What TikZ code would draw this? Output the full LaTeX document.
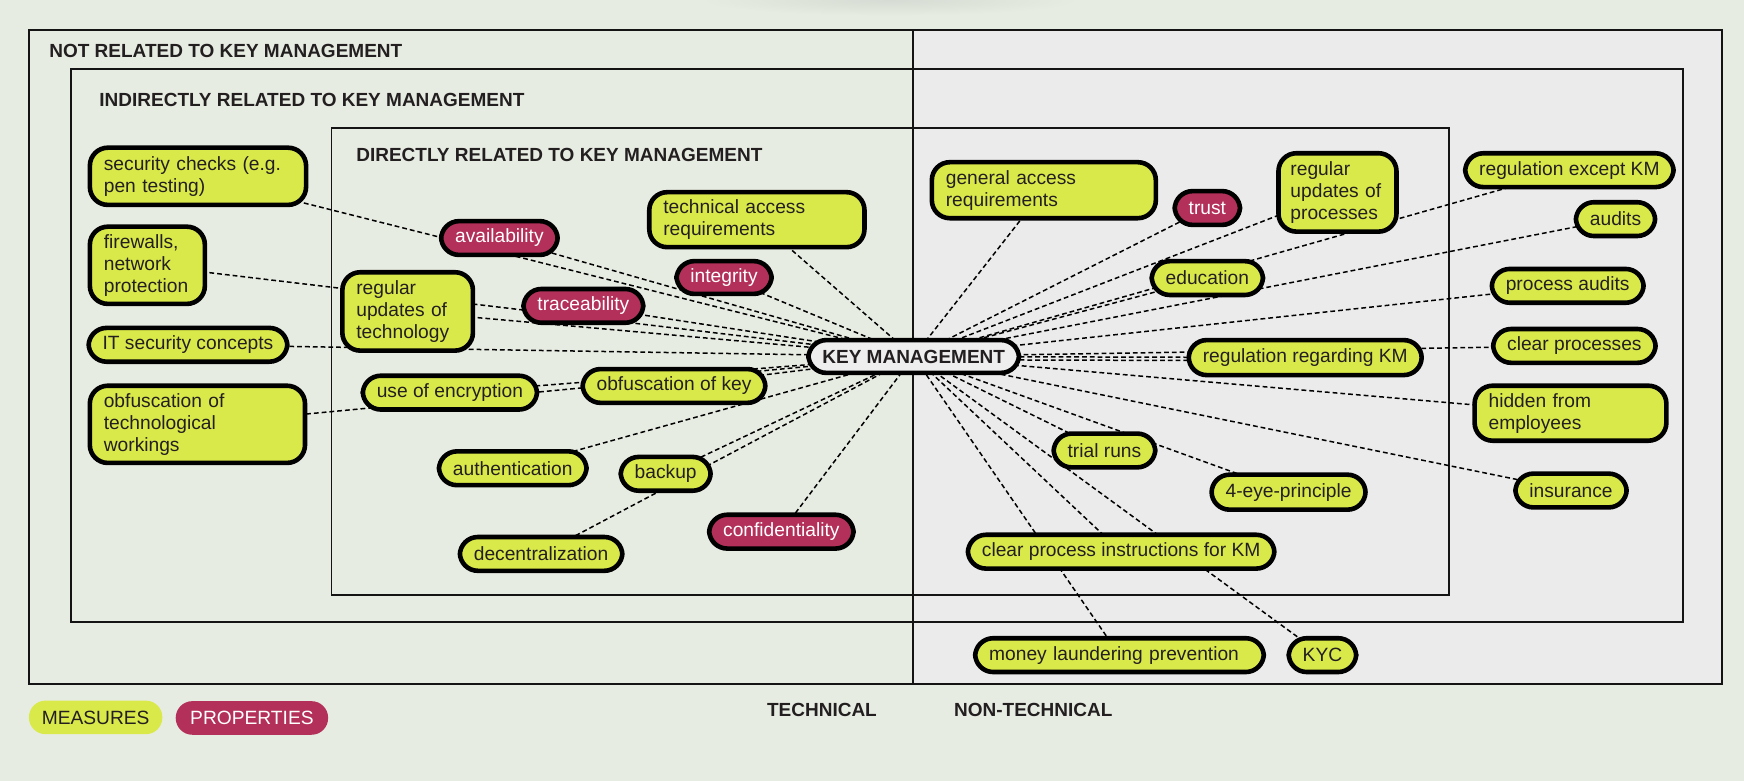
\documentclass[tikz,border=0pt]{standalone}
\usepackage{fontspec}
\setmainfont{Liberation Sans}
\definecolor{bgg}{RGB}{231,236,226}
\definecolor{bgr}{RGB}{235,235,235}
\definecolor{meas}{RGB}{218,233,74}
\definecolor{prop}{RGB}{179,48,90}
\definecolor{kmfill}{RGB}{238,238,238}
\definecolor{txt}{RGB}{35,31,32}
\definecolor{shadowc}{RGB}{214,219,211}
\pgfdeclarelayer{framelayer}
\pgfdeclarelayer{edgelayer}
\pgfsetlayers{framelayer,edgelayer,main}
\newcommand\nodefont{\fontsize{9.6}{11}\selectfont}
\newcommand\headfont{\fontsize{9.5}{11}\selectfont\bfseries}
\begin{document}
\begin{tikzpicture}[x=0.5561pt,y=-0.5561pt,
  box/.style={draw=black, line width=2.3pt, rounded corners=9pt, inner xsep=7pt, inner ysep=2pt,
              font=\nodefont, text=txt, minimum height=16.9pt},
  ms/.style={box, fill=meas},
  pr/.style={box, fill=prop, text=white},
  multi/.style={align=left, text width=#1},
  conn/.style={draw=black, line width=0.75pt, dash pattern=on 2.4pt off 1.5pt},
  frame/.style={draw=black!92, line width=0.8pt},
  head/.style={font=\headfont, text=txt, inner sep=0pt},
  legend/.style={rounded corners=8.3pt, minimum height=16.8pt, inner xsep=6pt, font=\nodefont}]
\useasboundingbox (0,0) rectangle (1568,702);
\begin{pgfonlayer}{framelayer}
  \fill[bgg] (0,0) rectangle (1568,702);
  \shade[inner color=shadowc, outer color=bgg] (800,0) ellipse [x radius=170, y radius=14];
  \fill[bgr] (821,27) rectangle (1548,615);
  \draw[frame] (26,27) rectangle (1548,615);
  \draw[frame] (64,62) rectangle (1513,559);
  \draw[frame] (298,115) rectangle (1303,535);
  \draw[frame] (821,27) -- (821,615);
\end{pgfonlayer}

% frame labels
\node[head, anchor=west] (lnot) at (44,46) {NOT RELATED TO KEY MANAGEMENT};
\node[head, anchor=west] (lind) at (89,90) {INDIRECTLY RELATED TO KEY MANAGEMENT};
\node[head, anchor=west] (ldir) at (320,139) {DIRECTLY RELATED TO KEY MANAGEMENT};
\node[head] (ltech) at (739,638) {TECHNICAL};
\node[head] (lnontech) at (929,638) {NON-TECHNICAL};

% legend
\node[legend, fill=meas, text=txt, minimum width=66.7pt] (legm) at (86,645) {MEASURES};
\node[legend, fill=prop, text=white, minimum width=76.2pt] (legp) at (226.5,645.5) {PROPERTIES};

% centre
\node[box, fill=kmfill, font=\headfont, minimum width=103pt, minimum height=16.4pt] (km) at (821.5,320.5) {KEY MANAGEMENT};

% left side
\node[ms, multi=94.1pt, minimum height=28.6pt] (seccheck) at (178,158.5) {security checks (e.g.\\pen testing)};
\node[ms, multi=43.5pt, minimum height=38.6pt] (firewall) at (132.5,238.5) {firewalls,\\network\\protection};
\node[ms, minimum width=98.1pt] (itsec) at (169,310) {IT security concepts};
\node[ms, multi=93.6pt, minimum height=38.6pt] (obftech) at (177.5,381.5) {obfuscation of\\technological\\workings};
\node[pr, minimum width=56.9pt] (avail) at (449,214) {availability};
\node[ms, multi=93.6pt, minimum height=27.5pt] (techacc) at (680.5,197.5) {technical access\\requirements};
\node[pr, minimum width=46.9pt, minimum height=16.4pt] (integ) at (651,249.5) {integrity};
\node[ms, multi=51.3pt, minimum height=39.2pt] (regtech) at (366.5,280) {regular\\updates of\\technology};
\node[pr, minimum width=59.7pt] (trace) at (524.5,275) {traceability};
\node[ms, minimum width=85.3pt] (useenc) at (404.5,353) {use of encryption};
\node[ms, minimum width=89.2pt] (obfkey) at (606,347) {obfuscation of key};
\node[ms, minimum width=71.4pt] (auth) at (461,421) {authentication};
\node[ms, minimum width=44.2pt] (backup) at (598.5,426) {backup};
\node[ms, minimum width=79.7pt] (decent) at (486.5,498) {decentralization};
\node[pr, minimum width=70.9pt] (conf) at (702.5,478) {confidentiality};

% right side
\node[ms, multi=98pt, minimum height=28pt] (genacc) at (938.5,171) {general access\\requirements};
\node[pr, minimum width=31.9pt] (trust) at (1085.5,187) {trust};
\node[ms, multi=47pt, inner xsep=6pt, minimum height=39.2pt] (regproc) at (1202.5,173) {regular\\updates of\\processes};
\node[ms, minimum width=102.5pt] (regexc) at (1411,153) {regulation except KM};
\node[ms, minimum width=38.6pt] (audits) at (1452.5,197) {audits};
\node[ms, minimum width=54.2pt] (educ) at (1085.5,250) {education};
\node[ms, minimum width=74.2pt] (procaud) at (1409.5,257) {process audits};
\node[ms, minimum width=114.2pt, minimum height=17.5pt] (regkm) at (1173.5,321.5) {regulation regarding KM};
\node[ms, minimum width=79.7pt] (clearproc) at (1415.5,311) {clear processes};
\node[ms, multi=81.9pt, minimum height=27.5pt] (hidden) at (1412,371.5) {hidden from\\employees};
\node[ms, minimum width=49.2pt] (trial) at (993,405) {trial runs};
\node[ms, minimum width=75.3pt, minimum height=17.5pt] (foureye) at (1158.5,442.5) {4-eye-principle};
\node[ms, minimum width=54.2pt] (insur) at (1412.5,441) {insurance};
\node[ms, minimum width=151.5pt] (cpi) at (1008,496) {clear process instructions for KM};
\node[ms, multi=130.3pt] (mlp) at (1006.5,589) {money laundering prevention};
\node[ms, minimum width=32.5pt] (kyc) at (1189,589) {KYC};

\begin{pgfonlayer}{edgelayer}
  \foreach \n in {seccheck,avail,firewall,regtech,trace,itsec,techacc,integ,obftech,useenc,obfkey,auth,backup,decent,conf,
                  genacc,trust,regproc,regexc,audits,educ,procaud,regkm,clearproc,hidden,insur,trial,foureye,cpi,mlp,kyc}
    \draw[conn] (\n.center) -- (km.center);
  \draw[conn] ([yshift=-1.6pt]regkm.center) -- ([yshift=-1.6pt]km.center);
\end{pgfonlayer}
\end{tikzpicture}
\end{document}
